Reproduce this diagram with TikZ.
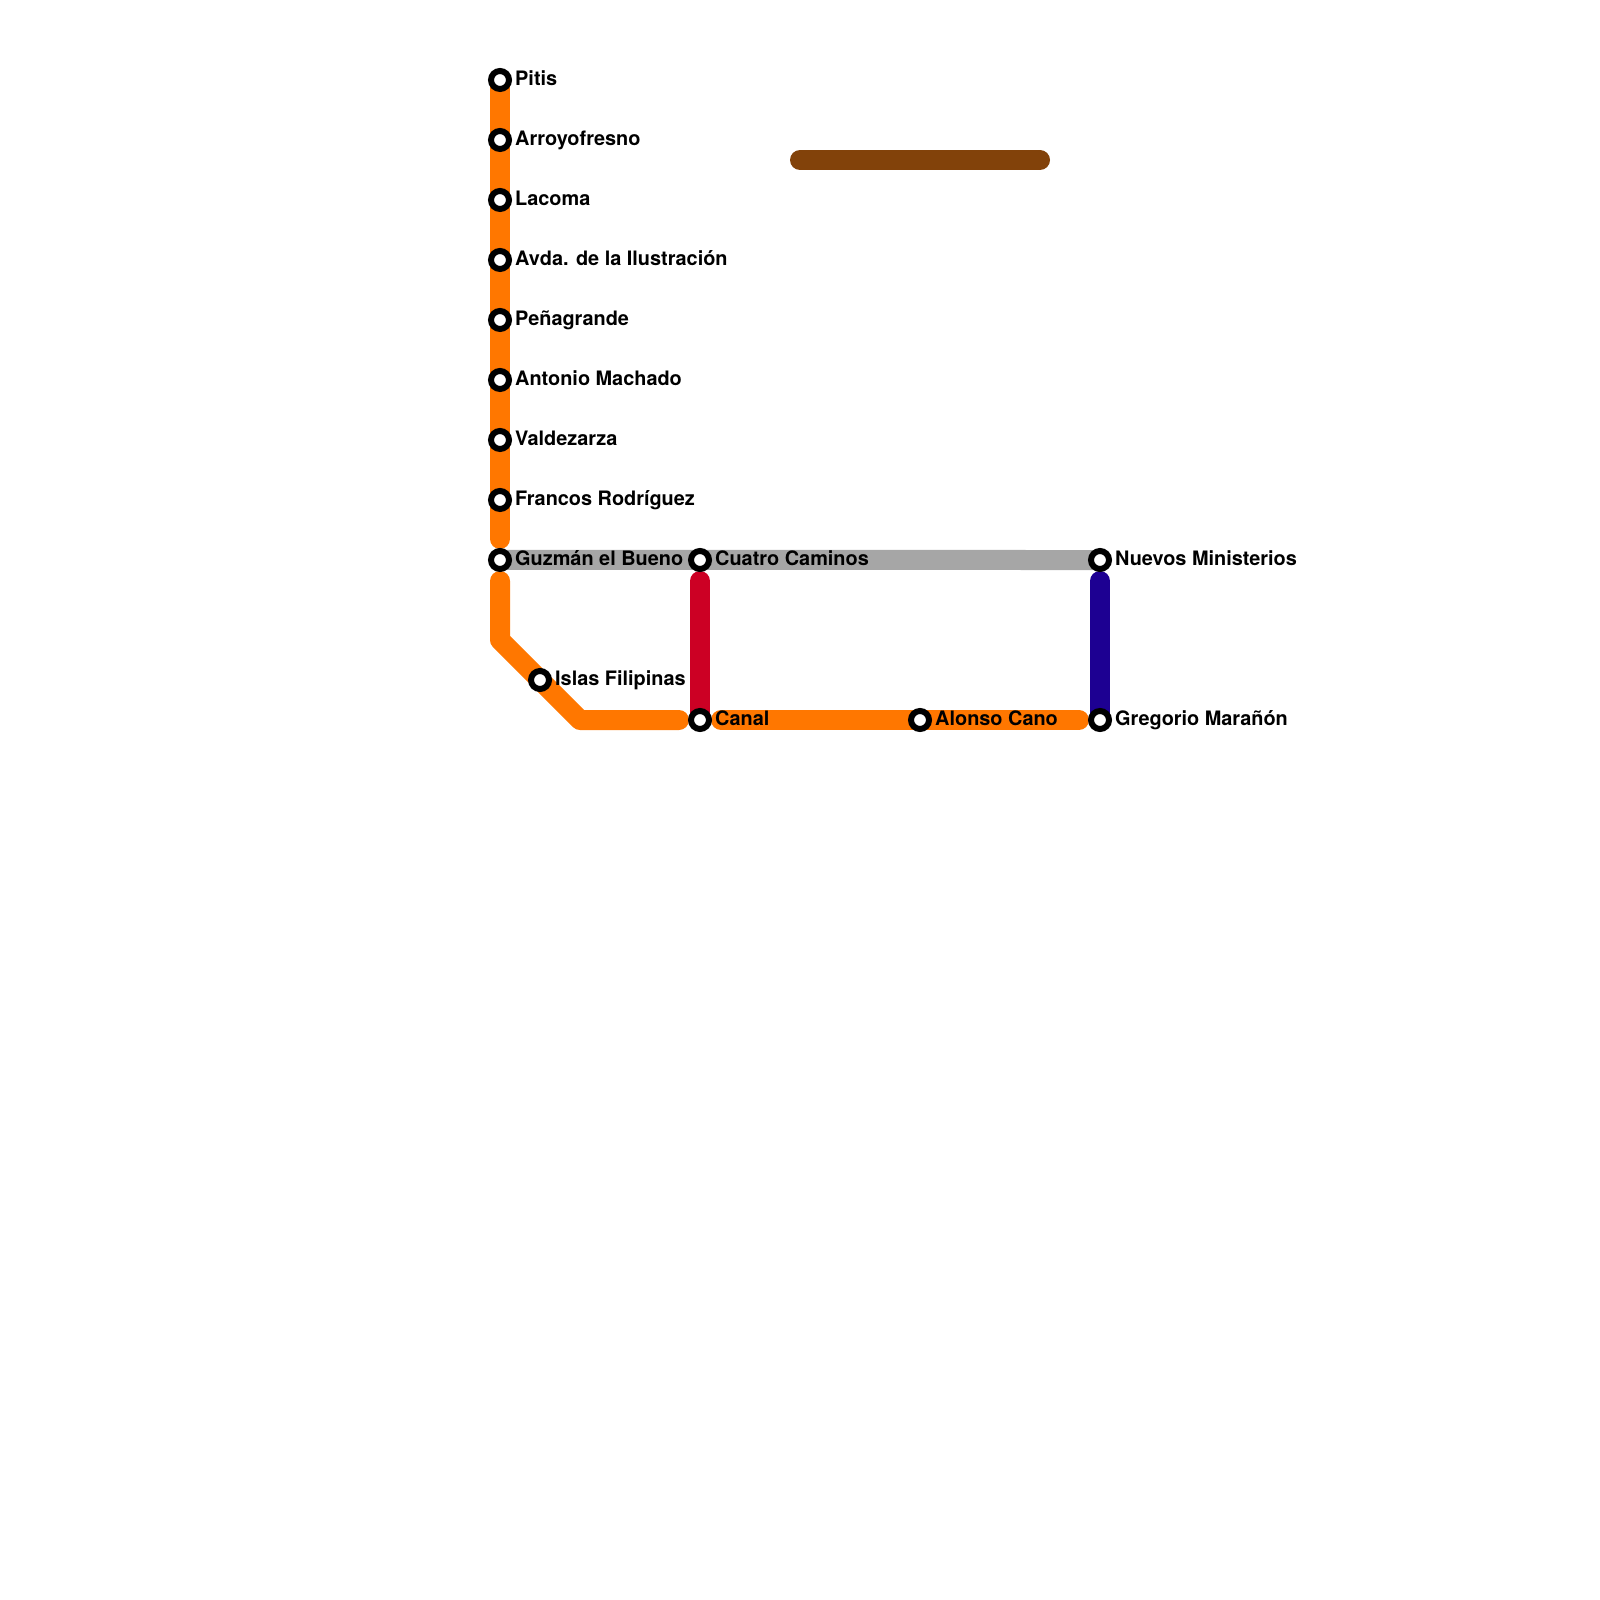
\documentclass[tikz,border=0pt]{standalone}
\usepackage{xcolor}
\usepackage{fontspec}
\setmainfont{TeX Gyre Heros}
\usetikzlibrary{positioning, backgrounds}
\definecolor{lineorange}{HTML}{FF7700}
\definecolor{linegrey}{HTML}{A6A6A6}
\definecolor{linered}{HTML}{CC0024}
\definecolor{lineblue}{HTML}{1D0092}
\definecolor{linebrown}{HTML}{82420A}

\begin{document}
\begin{tikzpicture}[
    y=-1cm,
    node distance=0.36cm,
    station/.style={circle, draw=black, fill=white, line width=0.06cm, minimum size=0.18cm, inner sep=0pt},
    lbl/.style={font=\bfseries\fontsize{5.66pt}{6pt}\selectfont, inner sep=0pt, text height=0.165cm, text depth=0.05cm},
    metro/.style={line width=0.2cm, line cap=round, line join=round},
]
    \useasboundingbox (0,0) rectangle (16,16);

    % Stations, left column
    \node[station] (pitis) at (5,0.8) {};
    \node[station, below=of pitis] (arroyofresno) {};
    \node[station, below=of arroyofresno] (lacoma) {};
    \node[station, below=of lacoma] (avda) {};
    \node[station, below=of avda] (penagrande) {};
    \node[station, below=of penagrande] (machado) {};
    \node[station, below=of machado] (valdezarza) {};
    \node[station, below=of valdezarza] (francos) {};
    \node[station, below=of francos] (guzman) {};

    % Stations, the others
    \node[station] (islas) at (5.4,6.8) {};
    \node[station] (cuatro) at (7,5.6) {};
    \node[station] (canal) at (7,7.2) {};
    \node[station] (alonso) at (9.2,7.2) {};
    \node[station] (nuevos) at (11,5.6) {};
    \node[station] (gregorio) at (11,7.2) {};

    % Bends and free ends
    \coordinate (bendtop) at (5,6.4);
    \coordinate (bendlow) at (5.8,7.2);
    \coordinate (brownleft) at (8,1.6);
    \coordinate (brownright) at (10.4,1.6);

    % Labels
    \node[lbl, right=0.025cm of pitis] (pitislbl) {Pitis};
    \node[lbl, right=0.025cm of arroyofresno] (arroyofresnolbl) {Arroyofresno};
    \node[lbl, right=0.025cm of lacoma] (lacomalbl) {Lacoma};
    \node[lbl, right=0.025cm of avda] (avdalbl) {Avda. de la Ilustración};
    \node[lbl, right=0.025cm of penagrande] (penagrandelbl) {Peñagrande};
    \node[lbl, right=0.025cm of machado] (machadolbl) {Antonio Machado};
    \node[lbl, right=0.025cm of valdezarza] (valdezarzalbl) {Valdezarza};
    \node[lbl, right=0.025cm of francos] (francoslbl) {Francos Rodríguez};
    \node[lbl, right=0.025cm of guzman] (guzmanlbl) {Guzmán el Bueno};
    \node[lbl, right=0.025cm of islas] (islaslbl) {Islas Filipinas};
    \node[lbl, right=0.025cm of cuatro] (cuatrolbl) {Cuatro Caminos};
    \node[lbl, right=0.025cm of canal] (canallbl) {Canal};
    \node[lbl, right=0.025cm of alonso] (alonsolbl) {Alonso Cano};
    \node[lbl, right=0.025cm of nuevos] (nuevoslbl) {Nuevos Ministerios};
    \node[lbl, right=0.025cm of gregorio] (gregoriolbl) {Gregorio Marañón};

    % Lines
    \begin{scope}[on background layer]
        \draw[metro, linegrey, line cap=butt] (guzman.center) -- (nuevos.center);
        \draw[metro, lineorange, shorten >=0.09cm] (pitis.center) -- (guzman.north);
        \draw[metro, lineorange, shorten <=0.09cm, shorten >=0.09cm] (guzman.south) -- (bendtop) -- (bendlow) -- (canal.west);
        \draw[metro, lineorange, shorten <=0.09cm, shorten >=0.09cm] (canal.east) -- (gregorio.west);
        \draw[metro, linered, shorten <=0.09cm] (cuatro.south) -- (canal.center);
        \draw[metro, lineblue, shorten <=0.09cm] (nuevos.south) -- (gregorio.center);
        \draw[metro, linebrown] (brownleft) -- (brownright);
    \end{scope}
\end{tikzpicture}
\end{document}
